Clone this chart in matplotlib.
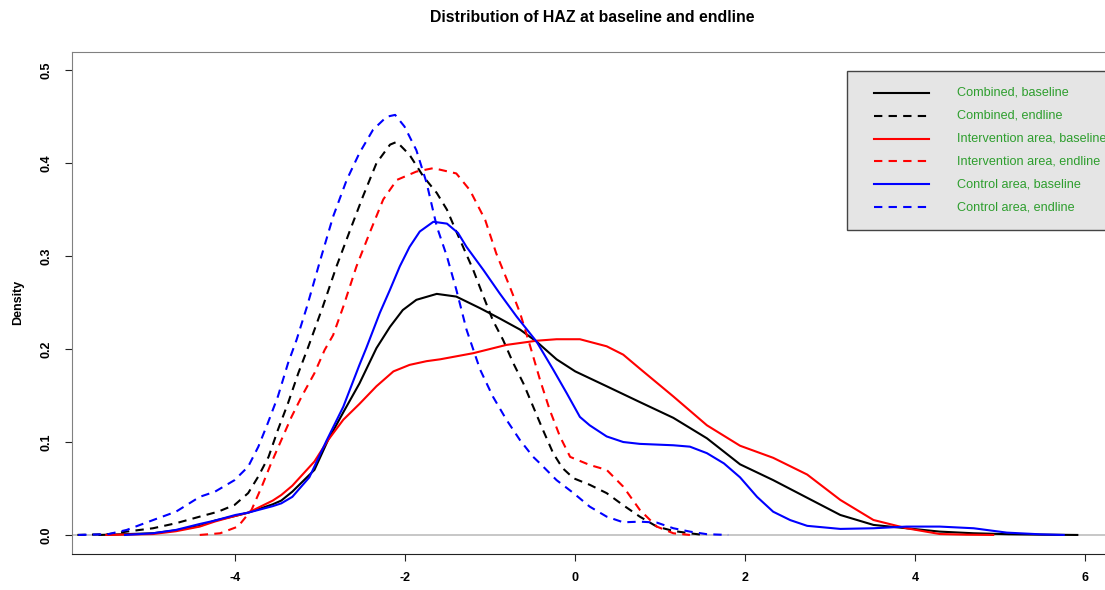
import numpy as np
import matplotlib
matplotlib.use("Agg")
import matplotlib.pyplot as plt
from matplotlib.patches import Rectangle
from matplotlib.lines import Line2D

plt.rcParams['font.family'] = ['Liberation Sans', 'DejaVu Sans']

# density curves (HAZ, density)
x_comb_base = [-5.6, -4.97, -4.70, -4.42, -4.24, -4.0, -3.85, -3.56, -3.46, -3.33, -3.07, -2.91, -2.73,
               -2.54, -2.34, -2.18, -2.03, -1.87, -1.63, -1.40, -1.12, -0.89, -0.65, -0.455, -0.22,
               0.0, 0.37, 0.76, 1.155, 1.55, 1.94, 2.33, 2.73, 3.12, 3.51, 3.90, 4.29, 4.69, 5.1, 5.5, 5.91]
y_comb_base = [0, 0.0018, 0.005, 0.0097, 0.0155, 0.0205, 0.024, 0.033, 0.037, 0.0466, 0.070, 0.102, 0.132,
               0.163, 0.201, 0.224, 0.242, 0.253, 0.2594, 0.2565, 0.244, 0.233, 0.221, 0.208, 0.189,
               0.176, 0.160, 0.143, 0.126, 0.104, 0.076, 0.059, 0.040, 0.0215, 0.0108, 0.0072, 0.0036,
               0.0018, 0.0008, 0.0003, 0]

x_comb_end = [-5.86, -5.5, -5.28, -4.97, -4.70, -4.42, -4.205, -4.01, -3.85, -3.73, -3.61, -3.50, -3.38,
              -3.26, -3.14, -2.97, -2.81, -2.65, -2.50, -2.34, -2.18, -2.10, -1.95, -1.79, -1.63, -1.51,
              -1.40, -1.32, -1.20, -1.08, -0.97, -0.85, -0.73, -0.61, -0.495, -0.38, -0.26, -0.15, -0.02,
              0.17, 0.37, 0.565, 0.76, 0.96, 1.155, 1.35, 1.51]
y_comb_end = [0, 0.0008, 0.0036, 0.0072, 0.0126, 0.0197, 0.025, 0.0323, 0.045, 0.063, 0.084, 0.113, 0.142,
              0.174, 0.203, 0.246, 0.289, 0.328, 0.364, 0.400, 0.420, 0.423, 0.409, 0.386, 0.368, 0.350,
              0.3265, 0.310, 0.285, 0.2565, 0.231, 0.210, 0.185, 0.163, 0.138, 0.113, 0.088, 0.072, 0.061,
              0.054, 0.045, 0.032, 0.0197, 0.009, 0.0043, 0.0018, 0]

x_int_base = [-5.52, -4.97, -4.70, -4.42, -4.24, -4.0, -3.85, -3.56, -3.46, -3.33, -3.07, -2.91, -2.73,
              -2.54, -2.34, -2.14, -1.95, -1.75, -1.59, -1.20, -0.81, -0.455, -0.22, 0.055, 0.37, 0.565,
              0.76, 1.155, 1.55, 1.94, 2.33, 2.73, 3.12, 3.51, 3.90, 4.29, 4.6, 4.92]
y_int_base = [0, 0.001, 0.004, 0.009, 0.0145, 0.0205, 0.024, 0.037, 0.043, 0.053, 0.079, 0.102, 0.124,
              0.141, 0.160, 0.176, 0.183, 0.187, 0.189, 0.1956, 0.2045, 0.209, 0.2106, 0.2106, 0.203, 0.194,
              0.179, 0.149, 0.118, 0.096, 0.083, 0.065, 0.0377, 0.0161, 0.0072, 0.001, 0.0003, 0]

x_int_end = [-4.42, -4.18, -3.97, -3.81, -3.69, -3.58, -3.46, -3.34, -3.22, -3.07, -2.95, -2.85, -2.73,
             -2.575, -2.42, -2.26, -2.10, -1.87, -1.67, -1.40, -1.24, -1.06, -0.93, -0.77, -0.65, -0.53,
             -0.415, -0.30, -0.18, -0.06, 0.17, 0.37, 0.565, 0.76, 0.96, 1.155, 1.35]
y_int_end = [0, 0.0018, 0.009, 0.027, 0.052, 0.077, 0.102, 0.127, 0.149, 0.174, 0.199, 0.215, 0.2457,
             0.289, 0.325, 0.361, 0.382, 0.391, 0.3947, 0.389, 0.371, 0.339, 0.303, 0.267, 0.239, 0.203,
             0.167, 0.1345, 0.106, 0.084, 0.0753, 0.070, 0.052, 0.027, 0.009, 0.0018, 0]

x_ctl_base = [-5.3, -4.97, -4.70, -4.42, -4.24, -4.0, -3.85, -3.56, -3.46, -3.33, -3.13, -2.93, -2.73,
              -2.54, -2.46, -2.30, -2.18, -2.065, -1.95, -1.83, -1.67, -1.51, -1.38, -1.28, -1.08, -0.89,
              -0.69, -0.455, -0.26, -0.10, 0.055, 0.17, 0.37, 0.565, 0.76, 1.155, 1.35, 1.55, 1.75, 1.94,
              2.14, 2.33, 2.53, 2.73, 3.12, 3.51, 3.90, 4.29, 4.69, 5.08, 5.47, 5.75]
y_ctl_base = [0, 0.0018, 0.0054, 0.0118, 0.0155, 0.0215, 0.024, 0.031, 0.034, 0.041, 0.062, 0.101, 0.138,
              0.183, 0.201, 0.239, 0.264, 0.289, 0.310, 0.3265, 0.337, 0.335, 0.325, 0.310, 0.285, 0.260,
              0.235, 0.208, 0.178, 0.1525, 0.127, 0.118, 0.106, 0.100, 0.098, 0.0965, 0.095, 0.088, 0.077,
              0.062, 0.041, 0.025, 0.016, 0.0098, 0.0065, 0.0072, 0.009, 0.009, 0.0072, 0.0025, 0.0007, 0]

x_ctl_end = [-5.85, -5.5, -5.28, -4.97, -4.70, -4.42, -4.24, -4.01, -3.85, -3.73, -3.62, -3.50, -3.38,
             -3.28, -3.16, -3.01, -2.85, -2.69, -2.54, -2.38, -2.22, -2.12, -2.01, -1.87, -1.75, -1.63,
             -1.51, -1.40, -1.28, -1.12, -0.97, -0.81, -0.65, -0.495, -0.415, -0.22, -0.02, 0.17, 0.37,
             0.565, 0.76, 0.96, 1.155, 1.35, 1.55, 1.80]
y_ctl_end = [0, 0.0008, 0.0054, 0.016, 0.025, 0.041, 0.0466, 0.059, 0.0735, 0.095, 0.120, 0.149, 0.185,
             0.210, 0.245, 0.293, 0.3426, 0.382, 0.411, 0.436, 0.450, 0.452, 0.4395, 0.414, 0.379, 0.332,
             0.2996, 0.264, 0.221, 0.178, 0.149, 0.124, 0.102, 0.084, 0.077, 0.059, 0.045, 0.0305, 0.0197,
             0.0136, 0.0143, 0.0133, 0.0072, 0.0036, 0.0008, 0]

labels = ["Combined, baseline", "Combined, endline", "Intervention area, baseline",
          "Intervention area, endline", "Control area, baseline", "Control area, endline"]
colors = ['black', 'black', 'red', 'red', 'blue', 'blue']
styles = ['-', '--', '-', '--', '-', '--']
xticks = [-4, -2, 0, 2, 4, 6]
yticks = [0.0, 0.1, 0.2, 0.3, 0.4, 0.5]

W, H = 1105, 590
fig = plt.figure(figsize=(W / 100, H / 100), dpi=100)
ax = fig.add_axes([72.3 / W, 1 - 554 / H, (1113 - 72.3) / W, (554 - 51.7) / H])

ax.axhline(0, color='#bebebe', lw=1.2, zorder=1)

curves = [(x_comb_base, y_comb_base), (x_comb_end, y_comb_end),
          (x_int_base, y_int_base), (x_int_end, y_int_end),
          (x_ctl_base, y_ctl_base), (x_ctl_end, y_ctl_end)]
for (xs, ys), col, ls in zip(curves, colors, styles):
    line, = ax.plot(xs, ys, color=col, ls=ls, lw=1.5, zorder=2)
    if ls == '--':
        line.set_dashes((4, 3))

ax.set_xlim(-5.92, 6.33)
ax.set_ylim(-0.0205, 0.520)
ax.set_xticks(xticks)
ax.set_xticklabels([str(t) for t in xticks], fontweight='bold', fontsize=9)
ax.set_yticks(yticks)
ax.set_yticklabels(["%.1f" % t for t in yticks], fontweight='bold', fontsize=9,
                   rotation=90, va='center')
ax.tick_params(axis='both', direction='out', length=5, width=0.8, color='#222222')
ax.tick_params(axis='x', pad=8)
ax.tick_params(axis='y', pad=9)

for side in ['left', 'top', 'right']:
    ax.spines[side].set_color('#808080')
ax.spines['bottom'].set_color('#222222')

ax.set_ylabel("Density", fontweight='bold', fontsize=9, labelpad=12)
fig.text(592.5 / W, 1 - 18 / H, "Distribution of HAZ at baseline and endline",
         ha='center', va='center', fontweight='bold', fontsize=11.4)

# legend box drawn by hand, R style
def fx(px):
    return px / W

def fy(py):
    return 1 - py / H

fig.add_artist(Rectangle((fx(846.7), fy(230)), fx(1120) - fx(846.7), fy(70.7) - fy(230),
                         transform=fig.transFigure, facecolor='#e5e5e5',
                         edgecolor='#444444', lw=1.0, zorder=5))
for i, (lab, col, ls) in enumerate(zip(labels, colors, styles)):
    yy = fy(92.7 + 22.9 * i)
    ln = Line2D([fx(874), fx(929)], [yy, yy], transform=fig.transFigure,
                color=col, ls=ls, lw=1.5, zorder=6)
    if ls == '--':
        ln.set_dashes((4, 3))
    fig.add_artist(ln)
    fig.text(fx(956.7), yy, lab, ha='left', va='center', fontsize=9.1,
             color='#2e9e2e', zorder=6)

fig.savefig("out.png", dpi=100)
